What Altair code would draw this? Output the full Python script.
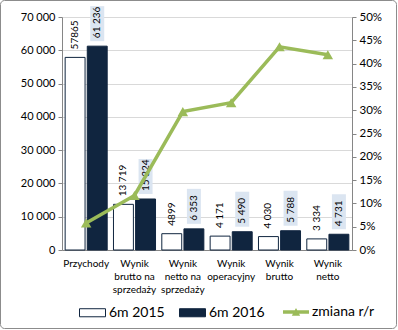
import altair as alt
import pandas as pd

categories = ["Przychody", "Wynik|brutto na|sprzedaży", "Wynik|netto na|sprzedaży",
              "Wynik|operacyjny", "Wynik|brutto", "Wynik|netto"]
series = ["6m 2015", "6m 2016"]
values_2015 = [57865, 13719, 4899, 4171, 4030, 3334]
values_2016 = [61236, 15324, 6353, 5490, 5788, 4731]
labels_2015 = ["57865", "13 719", "4899", "4 171", "4 030", "3 334"]
labels_2016 = ["61 236", "15 324", "6 353", "5 490", "5 788", "4 731"]
change_pct = [0.058, 0.117, 0.297, 0.316, 0.436, 0.419]
line_name = "zmiana r/r"
y_ticks = [0, 10000, 20000, 30000, 40000, 50000, 60000, 70000]
pct_ticks = [0.0, 0.05, 0.1, 0.15, 0.2, 0.25, 0.3, 0.35, 0.4, 0.45, 0.5]

FONT = "Lato"
NAVY = "#10253f"
GREEN = "#9bbb59"
GRAY = "#868686"

bars_df = pd.DataFrame({
    "category": categories * 2,
    "series": [series[0]] * 6 + [series[1]] * 6,
    "value": values_2015 + values_2016,
    "label": labels_2015 + labels_2016,
})
line_df = pd.DataFrame({"category": categories, "change": change_pct, "name": [line_name] * 6})

x_enc = alt.X("category:N", sort=categories,
              scale=alt.Scale(paddingInner=0.13, paddingOuter=0.065),
              axis=alt.Axis(title=None, labelExpr="split(datum.label, '|')", labelAngle=0,
                            ticks=False, domainColor=GRAY, labelFont=FONT, labelFontSize=10,
                            labelColor="#000000", labelLineHeight=13, labelPadding=8,
                            labelBaseline="top"))
x_off = alt.XOffset("series:N", sort=series, scale=alt.Scale(paddingInner=0.1))

bar_axis = alt.Axis(title=None, values=y_ticks,
                    labelExpr="replace(format(datum.value, ','), ',', ' ')",
                    grid=True, gridColor="#d9d9d9", domainColor=GRAY, tickColor=GRAY,
                    tickSize=4, labelFont=FONT, labelFontSize=11, labelColor="#000000",
                    labelPadding=3)
y_bar = alt.Y("value:Q", scale=alt.Scale(domain=[0, 70000]), axis=bar_axis)

rect_path = "M-1,-0.31H1V0.31H-1Z"
line_path = "M-1,-0.14H1V0.14H-1Z M-0.32,0.28L0,-0.3L0.32,0.28Z"

bars = alt.Chart(bars_df).mark_bar(stroke=NAVY, strokeWidth=1).encode(
    x=x_enc, xOffset=x_off, y=y_bar,
    fill=alt.Fill("series:N", sort=series,
                  scale=alt.Scale(domain=series, range=["#ffffff", NAVY]),
                  legend=alt.Legend(title=None, orient="none", legendX=17, legendY=282,
                                    direction="horizontal", symbolType=rect_path,
                                    symbolSize=676, symbolStrokeColor=NAVY,
                                    symbolStrokeWidth=1, labelFont=FONT, labelFontSize=14,
                                    labelColor="#000000", columnPadding=12, labelOffset=3)),
)

boxes = alt.Chart(bars_df).transform_filter(alt.datum.series == series[1]).mark_rule(
    color="#dbe5f1", strokeWidth=14, strokeCap="butt", yOffset=-5, y2Offset=-40
).encode(x=x_enc, xOffset=x_off, y=y_bar, y2="value:Q")

texts = alt.Chart(bars_df).mark_text(
    angle=270, align="left", baseline="middle", dx=8, fontSize=10, font=FONT, color="#000000"
).encode(x=x_enc, xOffset=x_off, y=y_bar, text="label:N")

bar_layer = alt.layer(bars, boxes, texts)

y_line = alt.Y("change:Q", scale=alt.Scale(domain=[0, 0.5]),
               axis=alt.Axis(title=None, orient="right", values=pct_ticks, format=".0%",
                             grid=False, domainColor=GRAY, tickColor=GRAY, tickSize=4,
                             labelFont=FONT, labelFontSize=11.5, labelColor="#000000",
                             labelPadding=3))

line = alt.Chart(line_df).mark_line(strokeWidth=3.5).encode(
    x=x_enc, y=y_line,
    stroke=alt.Stroke("name:N", scale=alt.Scale(domain=[line_name], range=[GREEN]),
                      legend=alt.Legend(title=None, orient="none", legendX=221, legendY=282,
                                        symbolType=line_path, symbolSize=676,
                                        symbolFillColor=GREEN, symbolStrokeWidth=0,
                                        labelFont=FONT, labelFontSize=14,
                                        labelColor="#000000", labelOffset=3)),
)
points = alt.Chart(line_df).mark_point(shape="triangle-up", filled=True, size=110,
                                       color=GREEN, opacity=1).encode(x=x_enc, y=y_line)
line_layer = alt.layer(line, points)

frame = alt.Chart(pd.DataFrame({"a": [0]})).mark_rect(
    fillOpacity=0, stroke="#8c8c8c", strokeWidth=1, cornerRadius=4
).encode(x=alt.value(-61.5), x2=alt.value(334.5), y=alt.value(-16.5), y2=alt.value(311.5))

chart = alt.layer(bar_layer, line_layer, frame).resolve_scale(y="independent").properties(
    width=290, height=233,
    autosize=alt.AutoSizeParams(type="none"),
    padding={"left": 62, "top": 17, "right": 46, "bottom": 80},
    background="#ffffff",
).configure_view(stroke=None)

chart.save("out.html", embed_options={"renderer": "svg", "actions": False})
